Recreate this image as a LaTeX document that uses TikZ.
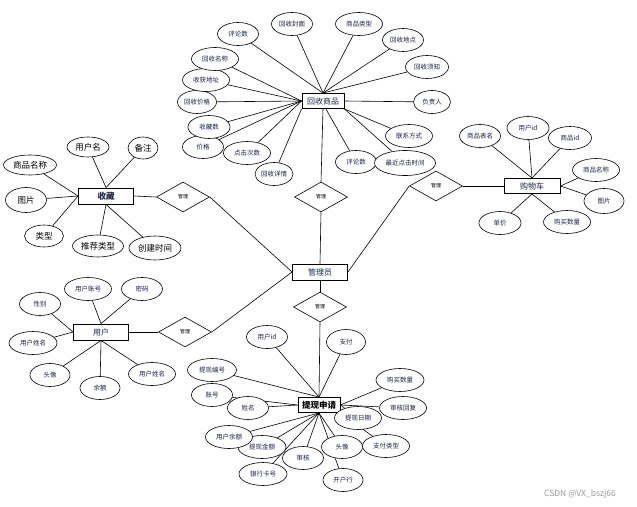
\documentclass[tikz,border=0pt]{standalone}
\usepackage{fontspec}
\setmainfont{Noto Sans CJK SC}
\usetikzlibrary{shapes.geometric,backgrounds}
\definecolor{ErText}{HTML}{1E2440}
\definecolor{ErMark}{HTML}{9A9A9A}

\begin{document}
\begin{tikzpicture}[x=1pt,y=-1pt,
  entity/.style={rectangle,draw=black,fill=white,line width=0.9pt,minimum width=55pt,minimum height=16pt,inner sep=1pt,font=\fontsize{8}{8}\selectfont,text=ErText},
  attr/.style={ellipse,draw=black,fill=white,line width=0.6pt,minimum width=41pt,minimum height=23pt,inner sep=0pt,font=\fontsize{6.5}{6.5}\selectfont,text=ErText},
  wide/.style={attr,minimum width=47pt},
  big/.style={attr,font=\fontsize{8.5}{8.5}\selectfont,text=black},
  rel/.style={diamond,draw=black,fill=white,line width=0.6pt,minimum width=53pt,minimum height=30pt,inner sep=0pt,font=\fontsize{5}{5}\selectfont},
  link/.style={draw=black,line width=0.6pt}
]
\useasboundingbox (0,0) rectangle (637,506);

% entities
\node[entity] (admin) at (320,272) {管理员};
\node[entity,minimum width=42pt,minimum height=15pt] (goods) at (323,101) {回收商品};
\node[entity,font=\fontsize{8.5}{8.5}\selectfont\bfseries] (fav) at (106,196) {收藏};
\node[entity,minimum width=56pt,minimum height=15pt] (cart) at (532,186) {购物车};
\node[entity] (user) at (101,332) {用户};
\node[entity,minimum width=42pt,minimum height=15pt,font=\fontsize{8.5}{8.5}\selectfont\bfseries,text=black] (cash) at (319,405) {提现申请};

% relations
\node[rel] (rgoods) at (321,197) {管理};
\node[rel] (rfav) at (183,197) {管理};
\node[rel] (rcart) at (436,186) {管理};
\node[rel] (ruser) at (185,332) {管理};
\node[rel] (rcash) at (320,307) {管理};

% 回收商品 attributes
\node[attr] (g1) at (238,34) {评论数};
\node[attr] (g2) at (292,24) {回收封面};
\node[wide] (g3) at (359,24) {商品类型};
\node[attr] (g4) at (403,40) {回收地点};
\node[attr,minimum width=43pt] (g5) at (427,67) {回收须知};
\node[attr,minimum width=37pt] (g6) at (432,102) {负责人};
\node[wide] (g7) at (409,136) {联系方式};
\node[attr] (g9) at (356,162) {评论数};
\node[attr,minimum width=61pt,minimum height=25pt] (g8) at (405,163) {最近点击时间};
\node[attr,minimum width=38pt] (g10) at (274,174) {回收详情};
\node[attr] (g12) at (203,147) {价格};
\node[wide] (g11) at (247,153) {点击次数};
\node[attr,minimum width=42pt] (g13) at (209,127) {收藏数};
\node[attr,minimum width=39pt] (g14) at (197,102) {回收价格};
\node[wide] (g15) at (206,80) {收获地址};
\node[wide] (g16) at (215,59) {回收名称};

% 收藏 attributes
\node[big,minimum width=42pt,minimum height=20pt] (f1) at (88,147) {用户名};
\node[big,minimum width=30pt,minimum height=22pt] (f2) at (143,148) {备注};
\node[big,minimum width=53pt,minimum height=20pt] (f3) at (30,165) {商品名称};
\node[big,minimum height=25pt] (f4) at (26,200) {图片};
\node[big,minimum width=39pt,minimum height=22pt] (f5) at (44,236) {类型};
\node[big,minimum width=51pt,minimum height=22pt] (f6) at (98,246) {推荐类型};
\node[big,minimum width=52pt,minimum height=24pt] (f7) at (155,248) {创建时间};

% 购物车 attributes
\node[attr] (c1) at (480,136) {商品表名};
\node[attr,minimum width=42pt] (c2) at (528,128) {用户id};
\node[attr,minimum width=43pt] (c3) at (570,138) {商品id};
\node[wide] (c4) at (596,170) {商品名称};
\node[attr,minimum width=40pt,minimum height=25pt] (c5) at (604,201) {图片};
\node[wide] (c6) at (567,222) {购买数量};
\node[attr,minimum width=42pt] (c7) at (500,223) {单价};

% 用户 attributes
\node[wide] (u1) at (88,289) {用户账号};
\node[attr] (u2) at (142,289) {密码};
\node[attr] (u3) at (40,304) {性别};
\node[attr,minimum width=48pt] (u4) at (33,343) {用户姓名};
\node[attr,minimum width=40pt] (u5) at (50,375) {头像};
\node[attr,minimum width=40pt] (u6) at (100,388) {余额};
\node[wide] (u7) at (152,374) {用户姓名};

% 提现申请 attributes
\node[attr] (t1) at (267,337) {用户id};
\node[attr,minimum width=39pt,minimum height=25pt] (t2) at (346,342) {支付};
\node[attr,minimum width=49pt] (t3) at (212,370) {提现编号};
\node[attr] (t4) at (212,395) {账号};
\node[attr] (t5) at (248,408) {姓名};
\node[attr,minimum width=48pt] (t6) at (400,380) {购买数量};
\node[wide] (t7) at (403,408) {审核回复};
\node[wide] (t8) at (358,418) {提现日期};
\node[wide] (t9) at (386,446) {支付类型};
\node[attr,minimum width=48pt] (t11) at (262,447) {提现金额};
\node[wide] (t10) at (229,437) {用户余额};
\node[attr] (t12) at (303,458) {审核};
\node[attr] (t13) at (342,447) {头像};
\node[attr,minimum width=48pt] (t14) at (263,474) {银行卡号};
\node[attr,minimum width=40pt] (t15) at (343,480) {开户行};

\node[font=\fontsize{8.5}{8.5}\selectfont,text=ErMark] (mark) at (580,494) {CSDN @VX\_bszj66};

\begin{scope}[on background layer]
% 回收商品
\foreach \a in {g1,g2,g3,g4,g5} \draw[link] (goods.north) -- (\a);
\foreach \a in {g11,g12,g13,g14,g15,g16} \draw[link] (goods.west) -- (\a);
\draw[link] (goods.south west) -- (g10);
\draw[link] (goods.east) -- (g6);
\draw[link] (goods.south east) -- (g7);
\draw[link] (goods.south east) -- (g8);
\draw[link] (goods.-70) -- (g9);
% 收藏
\foreach \a in {f1,f2} \draw[link] (fav.north) -- (\a);
\foreach \a in {f3,f4,f5} \draw[link] (fav.west) -- (\a);
\foreach \a in {f6,f7} \draw[link] (fav.south) -- (\a);
% 购物车
\foreach \a in {c1,c2,c3} \draw[link] (cart.north) -- (\a);
\foreach \a in {c4,c5} \draw[link] (cart.east) -- (\a);
\foreach \a in {c6,c7} \draw[link] (cart.south) -- (\a);
% 用户
\foreach \a in {u1,u2} \draw[link] (user.north) -- (\a);
\foreach \a in {u3,u4} \draw[link] (user.west) -- (\a);
\foreach \a in {u5,u6,u7} \draw[link] (user.south) -- (\a);
% 提现申请
\foreach \a in {t1,t2,t3} \draw[link] (cash.north) -- (\a);
\foreach \a in {t4,t5} \draw[link] (cash.west) -- (\a);
\foreach \a in {t6,t7,t8} \draw[link] (cash.east) -- (\a);
\draw[link] (cash.south east) -- (t9);
\foreach \a in {t10,t11,t12,t13,t14,t15} \draw[link] (cash.south) -- (\a);
% 管理
\draw[link] (goods.south) -- (rgoods.north);
\draw[link] (rgoods.south) -- (admin.north);
\draw[link] (fav.east) -- (rfav.west);
\draw[link] (rfav.east) -- (admin.west);
\draw[link] (user.east) -- (ruser.west);
\draw[link] (ruser.east) -- (admin.west);
\draw[link] (cart.west) -- (rcart.east);
\draw[link] (rcart.west) -- (admin.east);
\draw[link] (admin.south) -- (rcash.north);
\draw[link] (rcash.south) -- (cash.north);
\end{scope}
\end{tikzpicture}
\end{document}
